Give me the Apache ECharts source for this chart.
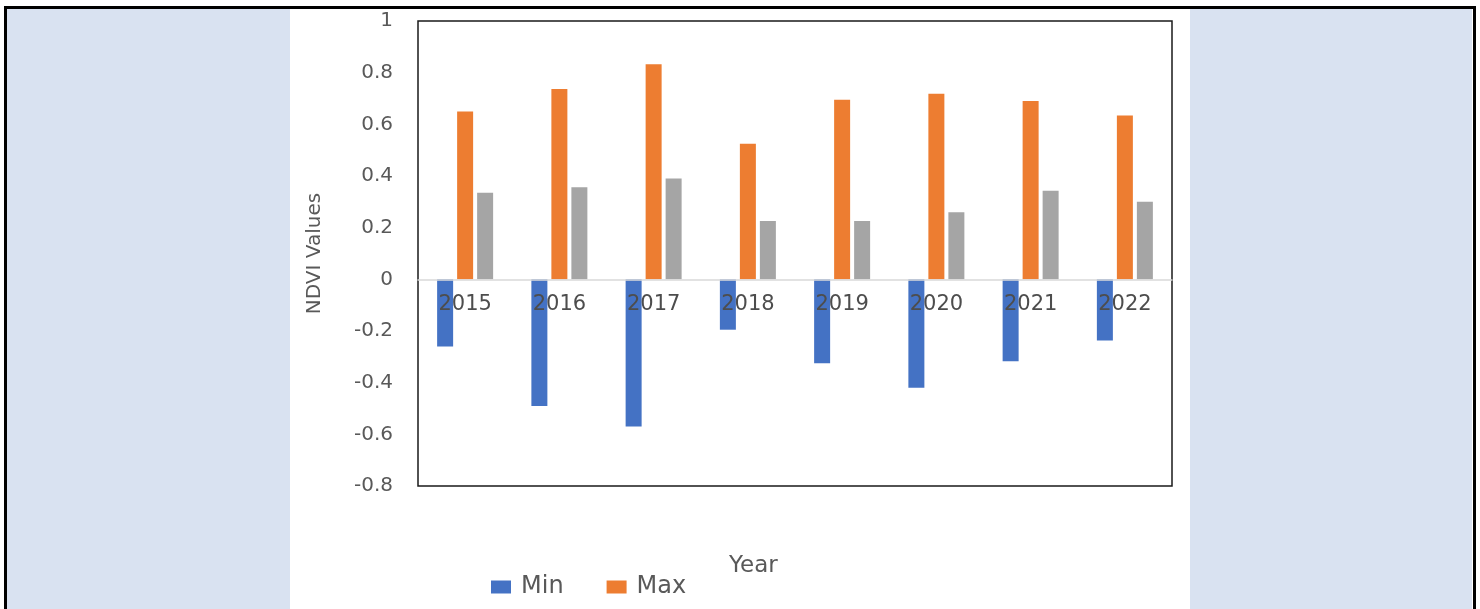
<!DOCTYPE html>
<html lang="en">
    <head>
        <meta charset="utf-8">
        <script src="https://cdn.jsdelivr.net/npm/echarts@6/dist/echarts.min.js"></script>
        <title>NDVI Values</title>
        <style>
            body { margin: 0; width: 1480px; height: 609px; overflow: hidden; background: #fff; position: relative; }
            .frame { position: absolute; left: 4px; top: 6px; width: 1472px; height: 640px; border: 3px solid #000; box-sizing: border-box; }
            .side { position: absolute; top: 9px; height: 600px; background: #d9e2f1; }
            #chart { position: absolute; left: 0; top: 0; width: 1480px; height: 609px; }
        </style>
    </head>
    <body>
        <div class="frame"></div>
        <div class="side" style="left:7px;width:283px"></div>
        <div class="side" style="left:1190px;width:282px"></div>
        <div id="chart"></div>
        <script>
            // values
            var years = ['2015','2016','2017','2018','2019','2020','2021','2022'];
            var minVals = [-0.26, -0.49, -0.57, -0.195, -0.325, -0.42, -0.317, -0.237];
            var maxVals = [0.65, 0.737, 0.833, 0.525, 0.695, 0.718, 0.69, 0.634];
            var meanVals = [0.335, 0.356, 0.39, 0.226, 0.226, 0.26, 0.343, 0.30];

            var txt = '#595959';
            var gridTop = 21, gridBottom = 123;
            var plotH = 609 - gridTop - gridBottom;
            // category axis sits on the zero line: shift it up from the grid bottom
            var zeroShift = plotH * 0.8 / 1.8;

            var chart = echarts.init(document.getElementById('chart'));
            chart.setOption({
                animation: false,
                textStyle: { fontFamily: 'DejaVu Sans' },
                title: {
                    text: 'Year',
                    left: 729,
                    top: 555,
                    padding: 0,
                    textStyle: { fontSize: 23, color: txt, fontWeight: 'normal' }
                },
                legend: {
                    data: ['Min', 'Max'],
                    left: 491,
                    top: 575,
                    padding: 0,
                    icon: 'rect',
                    itemWidth: 20,
                    itemHeight: 13,
                    itemGap: 43,
                    textStyle: { fontSize: 24, color: txt, padding: [0, 0, 0, 5] }
                },
                grid: {
                    left: 418,
                    right: 308,
                    top: gridTop,
                    bottom: gridBottom,
                    show: true,
                    borderColor: '#1a1a1a',
                    borderWidth: 1.5
                },
                xAxis: {
                    type: 'category',
                    data: years,
                    z: 5,
                    offset: -zeroShift,
                    axisLine: { onZero: false, lineStyle: { color: '#d9d9d9', width: 1.5 } },
                    axisTick: { show: false },
                    axisLabel: { fontSize: 21, color: '#4d4d4d', margin: 15 }
                },
                yAxis: {
                    type: 'value',
                    min: -0.8,
                    max: 1,
                    interval: 0.2,
                    name: 'NDVI Values',
                    nameLocation: 'middle',
                    nameGap: 93,
                    nameRotate: 90,
                    nameTextStyle: { fontSize: 20, color: txt },
                    axisLine: { show: false },
                    axisTick: { show: false },
                    splitLine: { show: false },
                    axisLabel: { fontSize: 20, color: txt, margin: 25 }
                },
                series: [
                    { name: 'Min', type: 'bar', data: minVals, barWidth: 16, barGap: '25%', itemStyle: { color: '#4472c4' } },
                    { name: 'Max', type: 'bar', data: maxVals, barWidth: 16, barGap: '25%', itemStyle: { color: '#ed7d31' } },
                    { name: 'Mean', type: 'bar', data: meanVals, barWidth: 16, barGap: '25%', itemStyle: { color: '#a5a5a5' } }
                ]
            });
        </script>
    </body>
</html>
